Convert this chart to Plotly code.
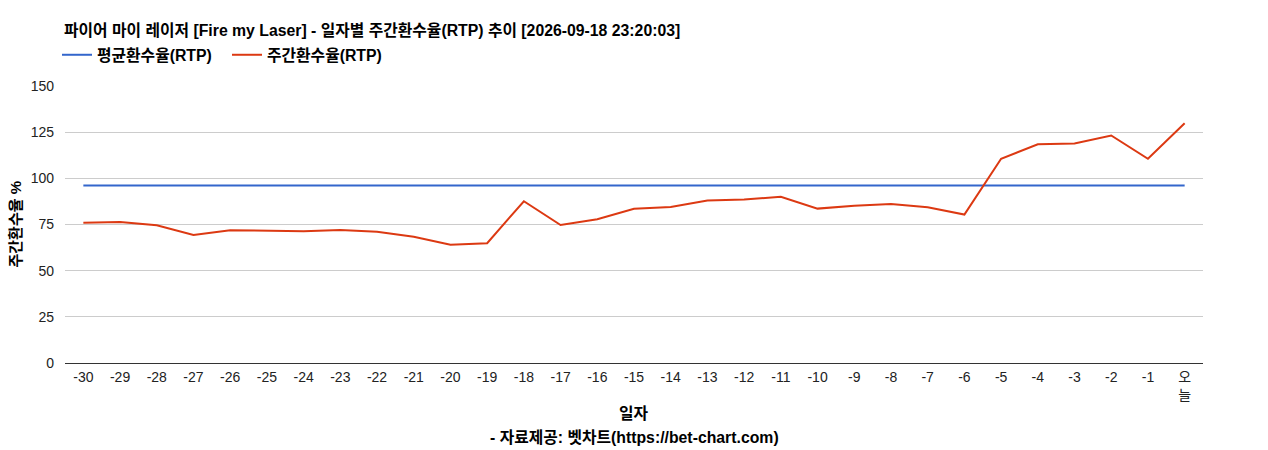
import plotly.graph_objects as go

# x categories (days before today)
days = [str(d) for d in range(-30, 0)] + ["오늘"]
day_labels = [str(d) for d in range(-30, 0)] + ["오<br>늘"]

# weekly RTP per day (%)
weekly_rtp = [75.9, 76.3, 74.6, 69.3, 71.9, 71.5, 71.3, 72.0, 71.1, 68.4,
              64.0, 64.9, 87.6, 74.7, 77.8, 83.5, 84.5, 88.0, 88.6, 90.0,
              83.6, 85.2, 86.1, 84.3, 80.4, 110.6, 118.4, 118.9, 123.2, 110.6,
              129.8]
avg_rtp = [96.1] * len(days)

title_text = "파이어 마이 레이저 [Fire my Laser] - 일자별 주간환수율(RTP) 추이 [2026-09-18 23:20:03]"
font_family = "Arial, Liberation Sans, Noto Sans CJK KR, sans-serif"
bold_size = 15.8

fig = go.Figure()
fig.add_trace(go.Scatter(x=days, y=avg_rtp, mode="lines", name="평균환수율(RTP)",
                         line=dict(color="#3366CC", width=2)))
fig.add_trace(go.Scatter(x=days, y=weekly_rtp, mode="lines", name="주간환수율(RTP)",
                         line=dict(color="#DC3912", width=2)))

# title, axis titles and credit as annotations, placed in pixels around the plot area
fig.add_annotation(x=0, y=1, xref="paper", yref="paper", xanchor="left", yanchor="middle",
                   xshift=-3, yshift=56, showarrow=False, text="<b>" + title_text + "</b>",
                   font=dict(size=bold_size, color="#000"))
fig.add_annotation(x=0, y=0.5, xref="paper", yref="paper", xanchor="center", yanchor="middle",
                   xshift=-50, showarrow=False, textangle=-90, text="<b>주간환수율 %</b>",
                   font=dict(size=15, color="#000"))
fig.add_annotation(x=0.5, y=0, xref="paper", yref="paper", xanchor="center", yanchor="middle",
                   yshift=-50, showarrow=False, text="<b>일자</b>",
                   font=dict(size=bold_size, color="#000"))
fig.add_annotation(x=0.5, y=0, xref="paper", yref="paper", xanchor="center", yanchor="middle",
                   yshift=-74, showarrow=False, text="<b>- 자료제공: 벳차트(https://bet-chart.com)</b>",
                   font=dict(size=bold_size, color="#000"))

fig.update_xaxes(type="category", tickmode="array", tickvals=days, ticktext=day_labels,
                 range=[-0.5, len(days) - 0.5],
                 showgrid=False, showline=True, linecolor="#333", linewidth=1,
                 ticks="", ticklabelstandoff=1, tickfont=dict(size=14, color="#222"),
                 fixedrange=True)
fig.update_yaxes(range=[0, 150], tickvals=[0, 25, 50, 75, 100, 125, 150],
                 showgrid=True, gridcolor="#cccccc", gridwidth=1, zeroline=False,
                 showline=False, ticks="", ticklabelstandoff=10,
                 tickfont=dict(size=14, color="#222"), fixedrange=True)

fig.update_layout(width=1268, height=450,
                  margin=dict(l=65, r=65, t=86, b=87, autoexpand=False),
                  paper_bgcolor="white", plot_bgcolor="white",
                  font=dict(family=font_family, size=14, color="#222"),
                  showlegend=True, hovermode=False,
                  legend=dict(orientation="h", x=-8 / 1138, xanchor="left",
                              y=1 + 31 / 277, yanchor="middle",
                              itemwidth=30, bgcolor="rgba(0,0,0,0)",
                              entrywidth=125, entrywidthmode="pixels",
                              font=dict(size=bold_size, color="#000", weight="bold")))

# the page body has a default 8px margin; drop it so the figure sits at the corner
fig.write_html("out.html", config={"displayModeBar": False},
               post_script="document.body.style.margin='0';")
